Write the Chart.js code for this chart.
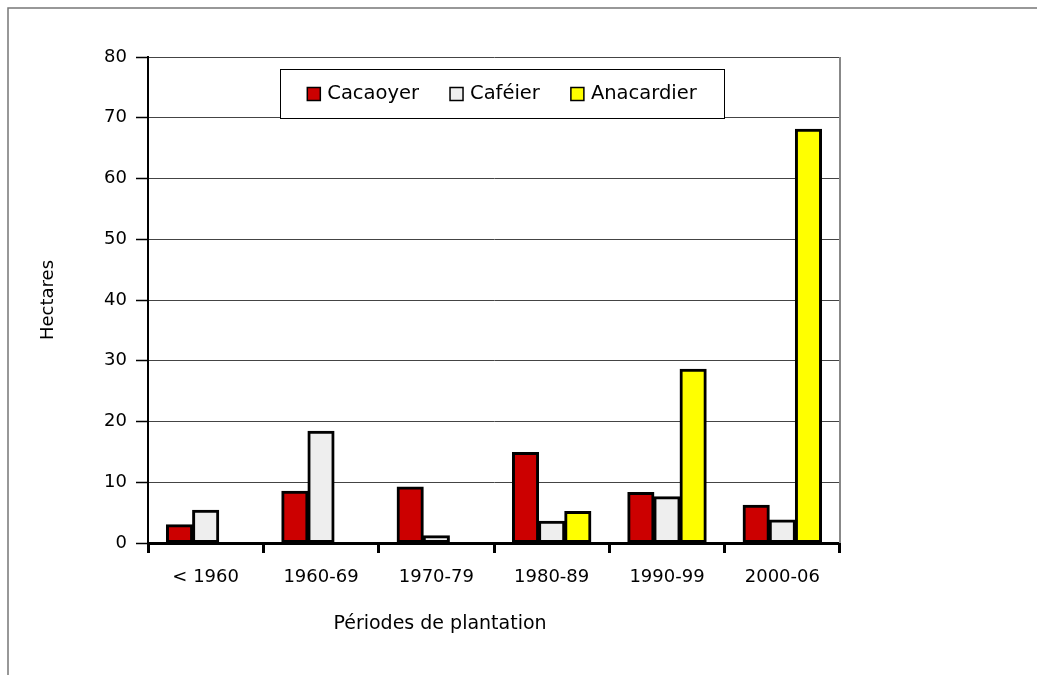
<!DOCTYPE html>
<html>
<head>
<meta charset="utf-8">
<script src="https://cdn.jsdelivr.net/npm/chart.js@4/dist/chart.umd.min.js"></script>
<style>
  html, body { margin: 0; padding: 0; background: #fff; }
  #wrap { width: 1037px; height: 675px; position: relative; }
</style>
</head>
<body>
<div id="wrap"><canvas id="c" width="1037" height="675"></canvas></div>
<script>
const categories = ['< 1960', '1960-69', '1970-79', '1980-89', '1990-99', '2000-06'];
const cacaoyer   = [3.0, 8.5, 9.2, 14.9, 8.3, 6.2];
const cafeier    = [5.4, 18.4, 1.2, 3.6, 7.6, 3.8];
const anacardier = [0, 0, 0, 5.2, 28.6, 68.1];
const yTicks     = [0, 10, 20, 30, 40, 50, 60, 70, 80];
const seriesNames  = ['Cacaoyer', 'Caféier', 'Anacardier'];
const seriesColors = ['#CC0000', '#EEEEEE', '#FFFF00'];
const yTitle = 'Hectares';
const xTitle = 'Périodes de plantation';

const FONT = 'DejaVu Sans';

const framePlugin = {
  id: 'frame',
  beforeDraw(chart) {
    const ctx = chart.ctx;
    ctx.save();
    ctx.fillStyle = '#fff';
    ctx.fillRect(0, 0, chart.width, chart.height);
    ctx.strokeStyle = '#777';
    ctx.lineWidth = 1.5;
    ctx.beginPath();
    ctx.moveTo(8, chart.height);
    ctx.lineTo(8, 8);
    ctx.lineTo(chart.width, 8);
    ctx.stroke();
    ctx.restore();
  },
  beforeDatasetsDraw(chart) {
    const ctx = chart.ctx, a = chart.chartArea;
    ctx.save();
    ctx.strokeStyle = '#888';
    ctx.lineWidth = 2;
    ctx.beginPath();
    ctx.moveTo(a.right, a.top);
    ctx.lineTo(a.right, a.bottom);
    ctx.stroke();
    ctx.restore();
  },
  afterDraw(chart) {
    const ctx = chart.ctx;
    ctx.save();
    ctx.fillStyle = '#000';
    ctx.font = '19px "' + FONT + '"';
    ctx.textAlign = 'center';
    ctx.textBaseline = 'middle';
    ctx.fillText(xTitle, 440, 624);
    const bx = 280, by = 69, bw = 444, bh = 49;
    ctx.fillStyle = '#fff';
    ctx.fillRect(bx, by, bw, bh);
    ctx.strokeStyle = '#000';
    ctx.lineWidth = 1;
    ctx.strokeRect(bx + 0.5, by + 0.5, bw, bh);
    ctx.font = '19.5px "' + FONT + '"';
    ctx.textAlign = 'left';
    const sq = 13, gapT = 7, gapI = 31;
    const ds = chart.data.datasets;
    const widths = ds.map(d => ctx.measureText(d.label).width);
    let total = 0;
    widths.forEach((w, i) => { total += sq + gapT + w + (i < widths.length - 1 ? gapI : 0); });
    let x = bx + (bw - total) / 2;
    const cy = by + bh / 2 + 0.5;
    ds.forEach((d, i) => {
      ctx.fillStyle = d.backgroundColor;
      ctx.fillRect(x, cy - sq / 2, sq, sq);
      ctx.strokeStyle = '#000';
      ctx.lineWidth = 1.5;
      ctx.strokeRect(x, cy - sq / 2, sq, sq);
      ctx.fillStyle = '#000';
      ctx.fillText(d.label, x + sq + gapT, cy);
      x += sq + gapT + widths[i] + gapI;
    });
    ctx.restore();
  }
};

new Chart(document.getElementById('c'), {
  type: 'bar',
  data: {
    labels: categories,
    datasets: [cacaoyer, cafeier, anacardier].map((vals, i) => ({
      label: seriesNames[i],
      data: vals,
      backgroundColor: seriesColors[i],
      borderColor: '#000',
      borderWidth: 3,
      borderSkipped: false,
      inflateAmount: 0.5,
      barPercentage: 1.0,
      categoryPercentage: 0.68
    }))
  },
  options: {
    responsive: false,
    animation: false,
    devicePixelRatio: 1,
    layout: { padding: { left: 0, top: 57, right: 197, bottom: 0 } },
    plugins: { legend: { display: false }, tooltip: { enabled: false } },
    scales: {
      x: {
        offset: true,
        grid: { display: true, drawOnChartArea: false, drawTicks: true, tickLength: 10, tickWidth: 3, tickColor: '#000', offset: true },
        border: { display: true, color: '#000', width: 3 },
        ticks: { color: '#000', font: { family: FONT, size: 18 }, padding: 14 },
        afterFit(s) { s.height = 132; }
      },
      y: {
        min: 0, max: 80,
        afterBuildTicks(s) { s.ticks = yTicks.map(v => ({ value: v })); },
        grid: { color: '#444', lineWidth: 1, tickLength: 12, tickColor: '#000', tickWidth: 1.5 },
        border: { display: true, color: '#000', width: 2 },
        ticks: { color: '#000', font: { family: FONT, size: 18 }, padding: 9 },
        title: { display: true, text: yTitle, color: '#000', font: { family: FONT, size: 18 }, padding: { top: 38, bottom: 0 } },
        afterFit(s) { s.width = 148; }
      }
    }
  },
  plugins: [framePlugin]
});
</script>
</body>
</html>
